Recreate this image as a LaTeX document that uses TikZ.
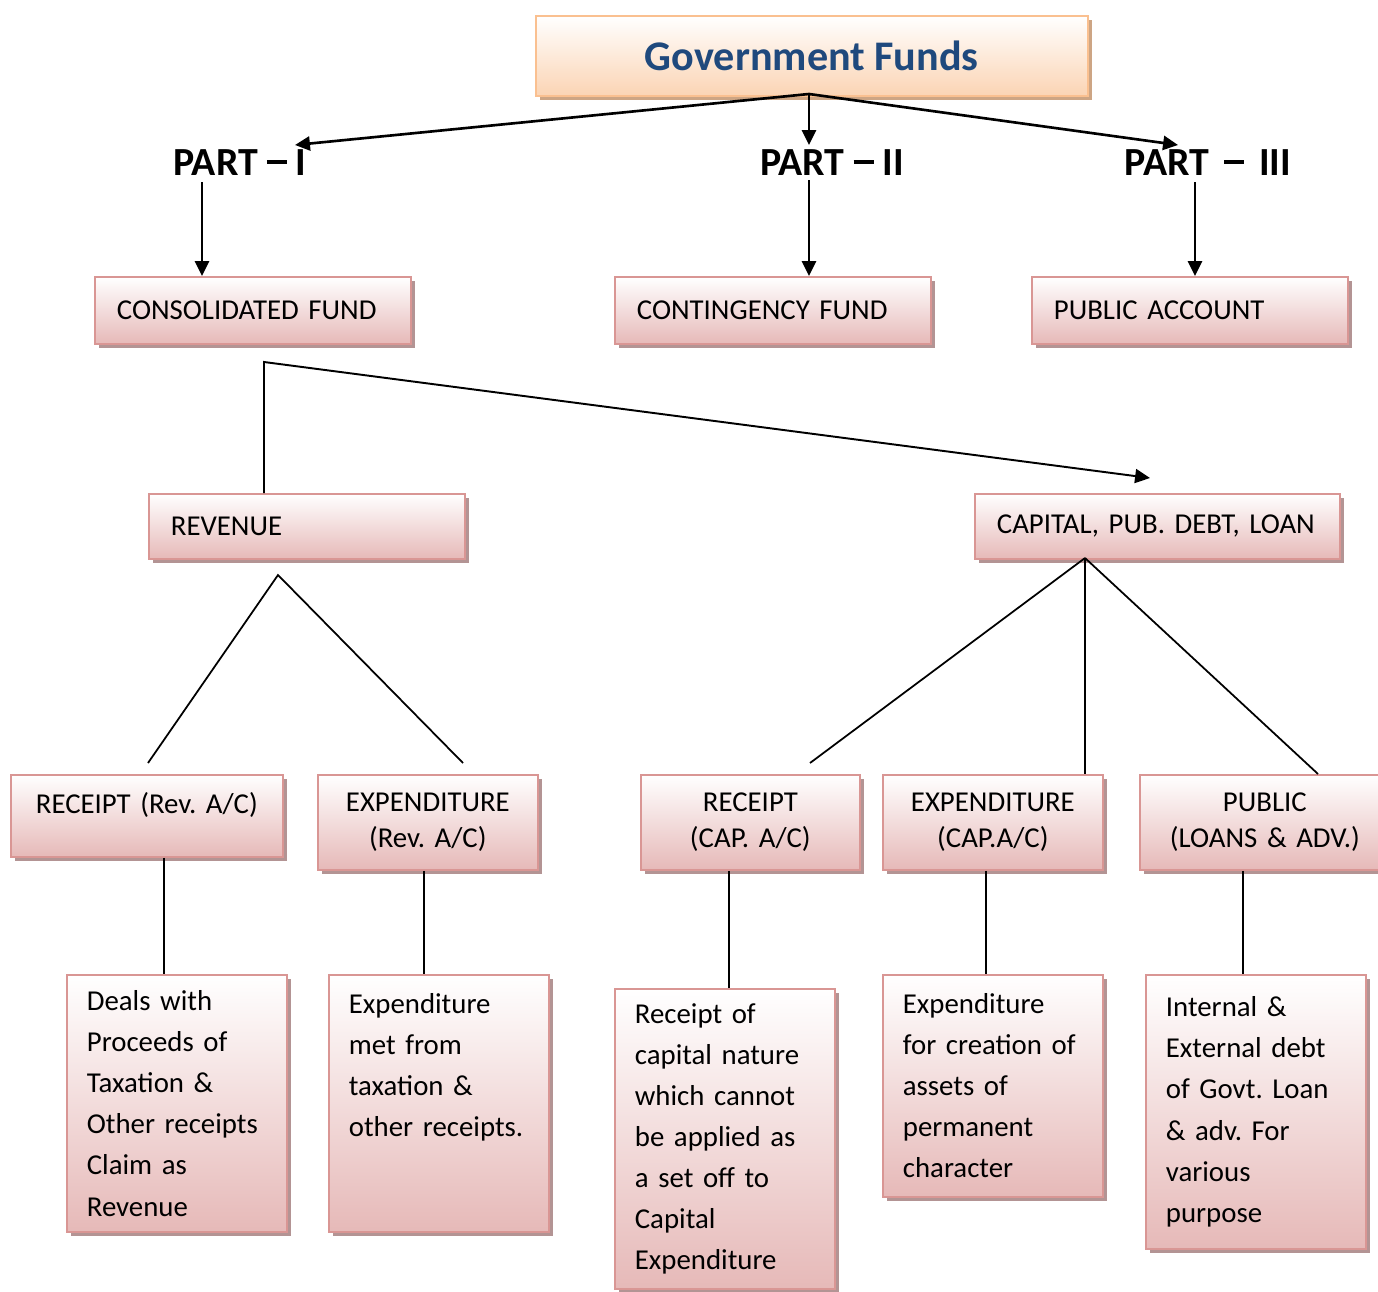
\documentclass[tikz,border=0pt]{standalone}
\usepackage{fontspec}
\setmainfont{Carlito}
\usepackage{xcolor}
\usetikzlibrary{arrows.meta, shadows}
\frenchspacing
\definecolor{boxline}{HTML}{D99694}
\definecolor{boxfill}{HTML}{E6B9B8}
\definecolor{boxshadow}{HTML}{B39494}
\definecolor{titleline}{HTML}{FAC090}
\definecolor{titlefill}{HTML}{FBD4B4}
\definecolor{titleshadow}{HTML}{CDA584}
\definecolor{titletext}{HTML}{1F497D}
\newcommand{\partdash}{\rule[0.3em]{0.5em}{0.1em}}
\tikzstyle{govbox} = [rectangle, 
minimum width=11.04cm, 
minimum height=1.6cm,
text centered, 
draw=titleline, line width=1pt,
top color=white, bottom color=titlefill,
drop shadow={shadow xshift=2.5pt, shadow yshift=-2.5pt, fill=titleshadow, opacity=1},
text=titletext,
font=\fontsize{24}{29}\selectfont\bfseries]
\tikzstyle{part} = [inner sep=0pt, 
font=\fontsize{22.7}{27}\selectfont\bfseries]
\tikzstyle{fund} = [rectangle, anchor=north west, 
minimum height=1.34cm, 
text width=5.44cm, 
inner xsep=0.44cm, 
align=left, 
draw=boxline, line width=1pt,
top color=white, bottom color=boxfill,
drop shadow={shadow xshift=2.5pt, shadow yshift=-2.5pt, fill=boxshadow, opacity=1},
font=\fontsize{16.4}{20.4}\selectfont]
\tikzstyle{head} = [fund, 
minimum height=1.9cm, 
inner xsep=0.2cm, 
align=center]
\tikzstyle{desc} = [fund, 
text width=3.6cm, 
inner xsep=0.4cm, 
font=\fontsize{16.4}{23.4}\selectfont]
\tikzstyle{arrow} = [line width=1.5pt, -{Triangle[length=8.5pt, width=8pt]}]
\tikzstyle{link} = [line width=1pt]

\begin{document}
\begin{tikzpicture}[x=0.02cm, y=-0.02cm]
\useasboundingbox (0,0) rectangle (1378,1291);

\node (gov) [govbox, anchor=north west] at (535,15) {Government Funds};
\node (part1) [part] at (240,163) {PART \partdash{} I};
\node (part2) [part] at (832,163) {PART \partdash{} II};
\node (part3) [part] at (1208,163) {PART\hspace{0.12cm} \partdash{} \hspace{0.12cm}III};

\node (consol) [fund] at (94,276) {CONSOLIDATED FUND};
\node (conting) [fund] at (614,276) {CONTINGENCY FUND};
\node (pubacc) [fund] at (1031,276) {PUBLIC ACCOUNT};

\node (revenue) [fund, minimum height=1.3cm] at (148,493) {REVENUE};
\node (capital) [fund, minimum height=1.3cm, text width=6.42cm] at (974,493) {CAPITAL, PUB. DEBT, LOAN};

\node (recrev) [head, text width=5.04cm, minimum height=1.64cm, text height=0.4cm, text depth=0.48cm] at (10,774) {RECEIPT (Rev. A/C)};
\node (exprev) [head, text width=4cm] at (317,774) {EXPENDITURE\\(Rev. A/C)};
\node (reccap) [head, text width=3.98cm] at (640,774) {RECEIPT\\(CAP. A/C)};
\node (expcap) [head, text width=4cm] at (882,774) {EXPENDITURE\\(CAP.A/C)};
\node (publoan) [head, text width=4.6cm] at (1139,774) {PUBLIC\\(LOANS \& ADV.)};

\node (dealsrev) [desc, minimum height=5.14cm] at (66,974) {Deals with\\Proceeds of\\Taxation \&\\Other receipts\\Claim as\\Revenue};
\node (metrev) [desc, minimum height=5.14cm] at (328,974) {Expenditure\\met from\\taxation \&\\other receipts.\\[0.46cm] \strut};
\node (reccapdesc) [desc, minimum height=6cm] at (614,988) {Receipt of\\capital nature\\which cannot\\be applied as\\a set off to\\Capital\\Expenditure};
\node (creation) [desc, minimum height=4.44cm] at (882,974) {Expenditure\\for creation of\\assets of\\permanent\\character};
\node (debt) [desc, minimum height=5.48cm] at (1145,974) {Internal \&\\External debt\\of Govt. Loan\\\& adv. For\\various\\purpose};

% split points and free ends
\coordinate (govsplit) at (809,94);
\coordinate (tip1) at (295,145);
\coordinate (tip2) at (809,145);
\coordinate (tip3) at (1178,145);
\coordinate (drop1) at (202,182);
\coordinate (drop2) at (809,180);
\coordinate (drop3) at (1195,182);
\coordinate (revtop) at (264,362);
\coordinate (captip) at (1150,478);
\coordinate (revfork) at (278,575);
\coordinate (recrevend) at (148,763);
\coordinate (exprevend) at (463,763);
\coordinate (capfork) at (1085,558);
\coordinate (reccapend) at (810,763);
\coordinate (publoanend) at (1318,774);
\coordinate (l1) at (164,0);
\coordinate (l2) at (424,0);
\coordinate (l3) at (729,0);
\coordinate (l4) at (986,0);
\coordinate (l5) at (1243,0);

\draw [arrow] (govsplit) -- (tip1);
\draw [arrow] (govsplit) -- (tip2);
\draw [arrow] (govsplit) -- (tip3);
\draw [arrow] (drop1) -- (drop1 |- consol.north);
\draw [arrow] (drop2) -- (drop2 |- conting.north);
\draw [arrow] (drop3) -- (drop3 |- pubacc.north);
\draw [arrow, line width=1.1pt] (revtop |- revenue.north) -- (revtop) -- (captip);

\draw [link] (recrevend) -- (revfork) -- (exprevend);
\draw [link] (capfork) -- (reccapend);
\draw [link] (capfork) -- (capfork |- expcap.north);
\draw [link] (capfork) -- (publoanend);

\draw [link] (recrev.south -| l1) -- (dealsrev.north -| l1);
\draw [link] (exprev.south -| l2) -- (metrev.north -| l2);
\draw [link] (reccap.south -| l3) -- (reccapdesc.north -| l3);
\draw [link] (expcap.south -| l4) -- (creation.north -| l4);
\draw [link] (publoan.south -| l5) -- (debt.north -| l5);

\end{tikzpicture}
\end{document}
